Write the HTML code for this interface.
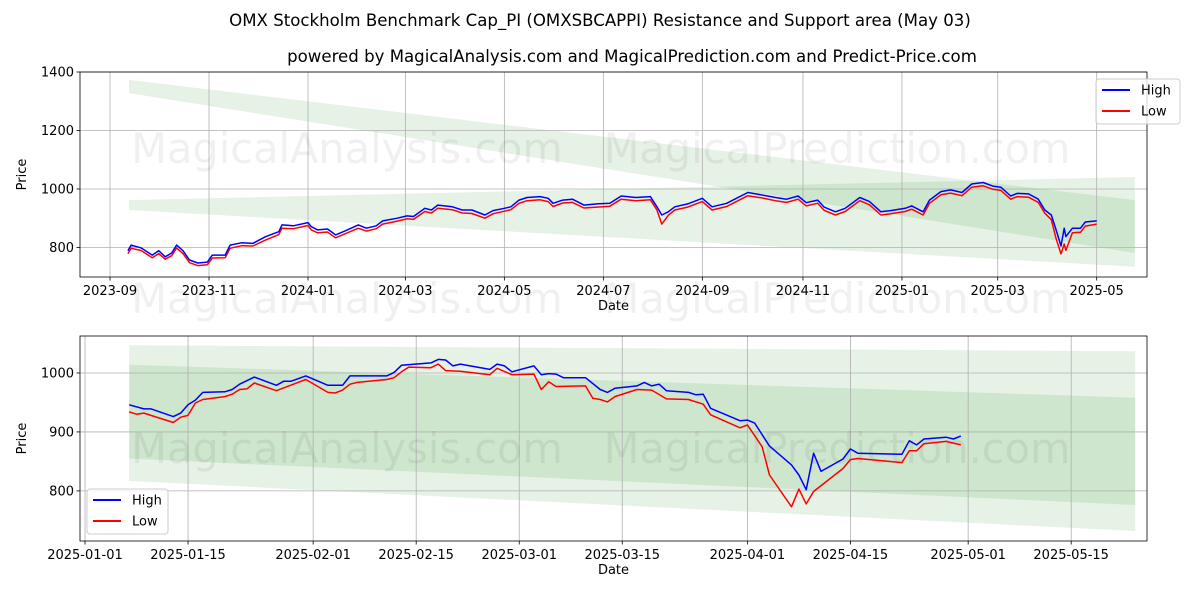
<!DOCTYPE html>
<html><head><meta charset="utf-8"><style>
html,body{margin:0;padding:0;background:#fff;}
svg{display:block;font-family:"DejaVu Sans","Liberation Sans",sans-serif;}
</style></head><body>
<svg id="chart" width="1200" height="600" viewBox="0 0 1200 600" xmlns="http://www.w3.org/2000/svg">
<text x="600" y="26" text-anchor="middle" font-size="16.6">OMX Stockholm Benchmark Cap_PI (OMXSBCAPPI) Resistance and Support area (May 03)</text>
<text x="632" y="62" text-anchor="middle" font-size="16.6">powered by MagicalAnalysis.com and MagicalPrediction.com and Predict-Price.com</text>
</svg>
<script>
// ---- Top chart data (days since 2023-09-01) ----
const topDays = [11,13,19,26,30,34,38,41,45,49,54,60,63,71,74,81,88,96,104,106,113,122,124,128,134,139,145,153,158,164,168,177,183,187,194,198,202,211,217,223,231,236,243,247,252,257,265,270,273,279,285,292,300,308,
315,324,333,337,340,344,348,356,365,371,380,386,393,401,410,417,424,429,436,440,447,453,462,468,475,481,490,494,501,505,512,518,525,531,538,544,549,555,559,566,572,576,580,583,586,588,589,593,598,601,608];
const topHigh = [789,808,799,774,789,768,781,808,789,757,747,750,774,774,808,816,814,837,854,877,874,885,871,860,863,843,857,877,866,874,891,900,908,906,934,928,945,939,928,928,911,926,934,939,962,971,974,968,951,962,965,945,949,951,
976,971,974,939,911,922,939,949,968,939,951,968,988,980,971,965,976,953,962,938,922,934,971,957,922,926,934,942,922,962,991,997,988,1017,1022,1010,1006,976,985,983,965,928,911,860,805,866,837,866,866,887,891];
const topLow = [779,797,790,765,779,760,772,798,779,748,738,741,764,765,797,806,805,826,844,866,864,875,860,850,853,833,847,866,856,864,880,890,898,896,923,918,934,929,918,916,900,915,924,929,951,960,963,957,940,952,954,935,938,941,
965,960,963,928,880,910,928,938,957,928,940,957,977,970,960,954,965,942,951,927,911,923,960,946,911,915,923,931,911,951,980,986,977,1006,1011,999,995,965,974,972,954,917,895,830,778,812,790,850,852,873,880];
const topTickDays = [0,61,122,182,243,304,365,427,488,547,608];
const topTickLabels = ["2023-09","2023-11","2024-01","2024-03","2024-05","2024-07","2024-09","2024-11","2025-01","2025-03","2025-05"];
const topYTicks = [800,1000,1200,1400];
const topBandDays = [11.7,631.5];
const topBandAUpper = [1373,962], topBandALower = [1328,781];
const topBandBUpper = [962,1041], topBandBLower = [928,734];

// ---- Bottom chart data (days since 2025-01-01) ----
const botHighDays = [6,8,9,12,13,14,15,16,19,20,21,23,26,27,28,30,33,35,36,41,42,43,47,48,49,50,51,55,56,57,58,61,62,63,64,65,68,70,71,72,75,76,77,78,79,82,83,84,85,89,90,91,93,96,97,98,99,100,103,104,105,111,112,113,114,117,118,119];
const botHigh = [946,939,939,926,932,946,954,967,968,972,981,993,979,986,986,995,979,979,995,995,1001,1013,1017,1023,1022,1012,1015,1006,1015,1012,1002,1012,997,999,998,992,992,972,967,974,978,984,978,981,970,967,963,964,940,919,920,915,876,844,827,802,864,833,854,871,864,862,885,878,888,891,888,893];
const botLowDays = [6,7,8,12,13,14,15,16,19,20,21,22,23,26,30,33,34,35,36,37,41,42,43,44,47,48,49,51,55,56,58,61,62,63,64,68,69,70,71,72,75,77,79,82,84,85,89,90,92,93,96,97,98,99,103,104,105,111,112,113,114,117,118,119];
const botLow = [934,930,932,916,925,928,949,955,960,964,972,973,983,970,989,967,966,971,981,984,989,992,1002,1010,1009,1015,1004,1003,997,1008,997,998,972,985,977,978,957,955,951,960,972,971,956,955,947,929,907,912,875,827,773,803,778,799,838,853,855,848,868,868,880,884,881,878];
const botTickDays = [0,14,31,45,59,73,90,104,120,134];
const botTickLabels = ["2025-01-01","2025-01-15","2025-02-01","2025-02-15","2025-03-01","2025-03-15","2025-04-01","2025-04-15","2025-05-01","2025-05-15"];
const botYTicks = [800,900,1000];
const botBandDays = [6,142.7];
const botBandAUpper = [1047,1037], botBandALower = [855,776];
const botBandBUpper = [1014,958], botBandBLower = [817,732];

const NS = "http://www.w3.org/2000/svg";
const svg = document.getElementById('chart');
function mk(tag, attrs, parent){
  const e = document.createElementNS(NS, tag);
  for (const k in attrs) e.setAttribute(k, attrs[k]);
  (parent||svg).appendChild(e);
  return e;
}

function drawPanel(cfg){
  const L=80,R=1147,T=cfg.top,B=cfg.bottom;
  const xs = d => L + (d - cfg.d0)/(cfg.d1 - cfg.d0)*(R-L);
  const ys = v => B - (v - cfg.v0)/(cfg.v1 - cfg.v0)*(B-T);
  const g = mk('g',{});
  
  
  [[cfg.bAU,cfg.bAL,'resistance-band'],[cfg.bBU,cfg.bBL,'support-band']].forEach(b=>{
    const pts = [[cfg.bd[0],b[0][0]],[cfg.bd[1],b[0][1]],[cfg.bd[1],b[1][1]],[cfg.bd[0],b[1][0]]]
      .map(p=>xs(p[0]).toFixed(1)+','+ys(p[1]).toFixed(1)).join(' ');
    const p = mk('polygon',{points:pts,fill:'green','fill-opacity':0.1},g);
    
    
  });
  cfg.xt.forEach((d,i)=>{
    const x=xs(d);
    const gl = mk('line',{x1:x,x2:x,y1:T,y2:B,stroke:'#b0b0b0','stroke-width':0.8},g);
    
    
    mk('line',{x1:x,x2:x,y1:B,y2:B+3.5,stroke:'#000','stroke-width':0.8},g);
    const t = mk('text',{x:x,y:B+18,'text-anchor':'middle','font-size':13},g);
    
    
    t.textContent = cfg.xl[i];
  });
  cfg.yt.forEach(v=>{
    const y=ys(v);
    const gl = mk('line',{x1:L,x2:R,y1:y,y2:y,stroke:'#b0b0b0','stroke-width':0.8},g);
    
    
    mk('line',{x1:L-3.5,x2:L,y1:y,y2:y,stroke:'#000','stroke-width':0.8},g);
    const t = mk('text',{x:L-6,y:y+4.5,'text-anchor':'end','font-size':13},g);
    
    
    t.textContent = v;
  });
  [[347,cfg.wm,'MagicalAnalysis.com'],[837,cfg.wm,'MagicalPrediction.com']].forEach(w=>{
    const t = mk('text',{x:w[0],y:w[1],'text-anchor':'middle','font-size':41.5,fill:'#000','fill-opacity':0.06},g);
    
    
    t.textContent = w[2];
  });
  const line = (days, vals, color, nm)=>{
    const pts = days.map((d,i)=>xs(d).toFixed(1)+','+ys(vals[i]).toFixed(1)).join(' ');
    const p = mk('polyline',{points:pts,fill:'none',stroke:color,'stroke-width':1.5,'stroke-linejoin':'round'},g);
    
    
  };
  line(cfg.lowD, cfg.low, '#ff0000', 'low-line');
  line(cfg.highD, cfg.high, '#0000ff', 'high-line');
  const fr = mk('rect',{x:L,y:T,width:R-L,height:B-T,fill:'none',stroke:'#000','stroke-width':0.8},g);
  
  
  const xt = mk('text',{x:(L+R)/2,y:B+33,'text-anchor':'middle','font-size':13},g);
  
  
  xt.textContent='Date';
  const yt = mk('text',{x:0,y:0,'text-anchor':'middle','font-size':13,transform:`translate(26,${(T+B)/2}) rotate(-90)`},g);
  
  
  yt.textContent='Price';
  const lg = mk('g',{},g);
  
  
  mk('rect',{x:cfg.lx,y:cfg.ly,width:cfg.lw,height:45,rx:3,fill:'#fff','fill-opacity':0.8,stroke:'#cccccc','stroke-width':1},lg);
  [['High','#0000ff'],['Low','#ff0000']].forEach((e,i)=>{
    const yy = cfg.ly+11+i*21;
    const en = mk('g',{},lg);
    
    
    mk('line',{x1:cfg.lx+6,x2:cfg.lx+34,y1:yy,y2:yy,stroke:e[1],'stroke-width':2},en);
    const t = mk('text',{x:cfg.lx+45,y:yy+4.5,'font-size':13},en);
    t.textContent=e[0];
  });
}

drawPanel({name:'top-panel',top:72,bottom:277,d0:-18.5,d1:639,v0:699,v1:1400,
  xt:topTickDays,xl:topTickLabels,yt:topYTicks,bd:topBandDays,
  bAU:topBandAUpper,bAL:topBandALower,bBU:topBandBUpper,bBL:topBandBLower,
  highD:topDays,high:topHigh,lowD:topDays,low:topLow,wm:163,lx:1096,ly:79,lw:84});
drawPanel({name:'bottom-panel',top:336,bottom:541,d0:-0.68,d1:144.3,v0:715,v1:1062.7,
  xt:botTickDays,xl:botTickLabels,yt:botYTicks,bd:botBandDays,
  bAU:botBandAUpper,bAL:botBandALower,bBU:botBandBUpper,bBL:botBandBLower,
  highD:botHighDays,high:botHigh,lowD:botLowDays,low:botLow,wm:463,lx:87,ly:489,lw:81});
[[347,'MagicalAnalysis.com'],[837,'MagicalPrediction.com']].forEach(w=>{
  const t = mk('text',{x:w[0],y:313,'text-anchor':'middle','font-size':41.5,fill:'#000','fill-opacity':0.06});
  
  
  t.textContent=w[1];
});
</script>
</body></html>
